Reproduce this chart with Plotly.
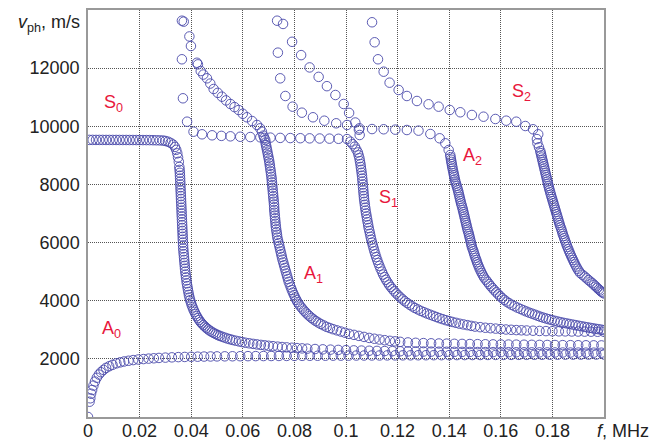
import plotly.graph_objects as go

# ---------------- data: (frequency f in MHz, phase velocity v_ph in m/s) ----------------
A0_points = [
    (0.0, 0), (0.0006, 526), (0.0009, 643), (0.0012, 800), (0.0016, 929), (0.0021, 1080),
    (0.0027, 1220), (0.0034, 1350), (0.0042, 1460), (0.0050, 1540), (0.0060, 1620),
    (0.0070, 1690), (0.0082, 1745), (0.0095, 1795), (0.0110, 1845), (0.0125, 1880),
    (0.0140, 1910), (0.0157, 1935), (0.0175, 1958), (0.0195, 1978), (0.0215, 1993),
    (0.0235, 2008), (0.0255, 2020), (0.0275, 2032), (0.0300, 2043), (0.0325, 2052),
    (0.0350, 2060), (0.0375, 2066), (0.0400, 2071), (0.0425, 2075), (0.0450, 2079),
    (0.0475, 2082), (0.0500, 2085), (0.053, 2087), (0.056, 2089), (0.059, 2091),
    (0.062, 2093), (0.065, 2095), (0.068, 2097), (0.071, 2098), (0.074, 2100),
    (0.077, 2101), (0.080, 2103), (0.083, 2104), (0.086, 2106), (0.089, 2107),
    (0.092, 2108), (0.095, 2110), (0.098, 2111), (0.101, 2112), (0.104, 2114),
    (0.107, 2115), (0.110, 2116), (0.113, 2117), (0.116, 2119), (0.119, 2120),
    (0.122, 2121), (0.125, 2122), (0.128, 2124), (0.131, 2125), (0.134, 2126),
    (0.137, 2127), (0.140, 2128), (0.143, 2130), (0.146, 2131), (0.149, 2132),
    (0.152, 2133), (0.155, 2134), (0.158, 2135), (0.161, 2136), (0.164, 2137),
    (0.167, 2138), (0.170, 2139), (0.173, 2140), (0.176, 2141), (0.179, 2142),
    (0.182, 2143), (0.185, 2144), (0.188, 2145), (0.191, 2146), (0.194, 2147),
    (0.197, 2148), (0.200, 2149),
]

S0_points = [
    (0.0005, 9532), (0.0018, 9532), (0.0031, 9531), (0.0044, 9531), (0.0057, 9531),
    (0.0070, 9530), (0.0083, 9530), (0.0096, 9530), (0.0109, 9530), (0.0122, 9529),
    (0.0135, 9529), (0.0148, 9529), (0.0161, 9528), (0.0174, 9528), (0.0187, 9527),
    (0.0200, 9527), (0.0213, 9526), (0.0226, 9525), (0.0239, 9524), (0.0252, 9522),
    (0.0265, 9519), (0.0278, 9515), (0.0290, 9510), (0.0300, 9495), (0.0310, 9470),
    (0.0320, 9430), (0.0330, 9370), (0.0337, 9290), (0.0342, 9190), (0.0346, 9070),
    (0.0349, 8930), (0.0352, 8780), (0.0354, 8600), (0.0355, 8500), (0.0356, 8400),
    (0.03565, 8300), (0.0357, 8200), (0.03575, 8100), (0.0358, 8000), (0.03585, 7900),
    (0.0359, 7800), (0.03595, 7700), (0.0360, 7600), (0.03605, 7500), (0.0361, 7400),
    (0.03615, 7300), (0.0362, 7200), (0.03625, 7100), (0.0363, 7000), (0.03635, 6900),
    (0.0364, 6800), (0.03645, 6700), (0.0365, 6600), (0.03655, 6500), (0.0366, 6400),
    (0.03665, 6300), (0.0367, 6200), (0.03675, 6100), (0.0368, 6000), (0.03685, 5900),
    (0.0369, 5800), (0.0370, 5700), (0.0371, 5600), (0.0372, 5500), (0.0373, 5400),
    (0.0374, 5300), (0.0375, 5200), (0.0376, 5100), (0.0377, 5000), (0.03785, 4900),
    (0.0380, 4800), (0.03815, 4700), (0.0383, 4600), (0.0385, 4500), (0.0387, 4400),
    (0.0389, 4300), (0.0391, 4200), (0.03935, 4110), (0.0396, 4020), (0.0399, 3935),
    (0.0402, 3850), (0.04055, 3770), (0.0409, 3690), (0.0413, 3615), (0.0417, 3540),
    (0.04215, 3470), (0.0426, 3400), (0.0431, 3335), (0.0436, 3270), (0.04415, 3215),
    (0.0447, 3160), (0.0453, 3110), (0.0459, 3060), (0.04655, 3015), (0.0472, 2970),
    (0.04795, 2930), (0.0487, 2890), (0.0495, 2855), (0.0503, 2820), (0.0511, 2790),
    (0.0520, 2760), (0.0530, 2730), (0.0540, 2700), (0.0550, 2675), (0.0560, 2650),
    (0.0572, 2625), (0.0585, 2600), (0.0597, 2578), (0.0610, 2555), (0.0625, 2535),
    (0.0640, 2515), (0.0655, 2497), (0.0670, 2480), (0.0685, 2465), (0.0700, 2450),
    (0.0717, 2435), (0.0735, 2420), (0.0752, 2407), (0.0770, 2395), (0.0790, 2382),
    (0.0810, 2370), (0.0830, 2360), (0.0850, 2350), (0.088, 2338), (0.091, 2327),
    (0.094, 2317), (0.097, 2308), (0.100, 2300), (0.103, 2292), (0.106, 2285),
    (0.109, 2279), (0.112, 2274), (0.115, 2269), (0.118, 2265), (0.121, 2261),
    (0.124, 2257), (0.127, 2254), (0.130, 2251), (0.133, 2248), (0.136, 2246),
    (0.139, 2244), (0.142, 2242), (0.145, 2240), (0.148, 2238), (0.151, 2236),
    (0.154, 2234), (0.157, 2232), (0.160, 2230), (0.163, 2229), (0.166, 2227),
    (0.169, 2226), (0.172, 2224), (0.175, 2223), (0.178, 2221), (0.181, 2220),
    (0.184, 2218), (0.187, 2217), (0.190, 2216), (0.193, 2214), (0.196, 2213),
    (0.199, 2212),
]

A1_points = [
    (0.0371, 13600), (0.0393, 13090), (0.0399, 12760), (0.0422, 12185), (0.0426, 12130),
    (0.0437, 11900), (0.0447, 11780), (0.0461, 11650), (0.0474, 11470), (0.0487, 11283),
    (0.0503, 11150), (0.0519, 11018), (0.0535, 10890), (0.0552, 10767), (0.0568, 10660),
    (0.0584, 10560), (0.0600, 10430), (0.0616, 10310), (0.0636, 10180), (0.0655, 10045),
    (0.0667, 9930), (0.0674, 9814), (0.0680, 9680), (0.0683, 9600), (0.0687, 9530),
    (0.0688, 9440), (0.0690, 9350), (0.0692, 9265), (0.0694, 9180), (0.0696, 9090),
    (0.0698, 9000), (0.0700, 8910), (0.0702, 8820), (0.07035, 8730), (0.0705, 8640),
    (0.07065, 8545), (0.0708, 8450), (0.07095, 8355), (0.0711, 8260), (0.0712, 8165),
    (0.0713, 8070), (0.0714, 7975), (0.0715, 7880), (0.0716, 7785), (0.0717, 7690),
    (0.0718, 7595), (0.0719, 7500), (0.0720, 7405), (0.0721, 7310), (0.07215, 7215),
    (0.0722, 7120), (0.0723, 7025), (0.0724, 6930), (0.0725, 6835), (0.0726, 6740),
    (0.0727, 6645), (0.0728, 6550), (0.07295, 6455), (0.0731, 6360), (0.07325, 6265),
    (0.0734, 6170), (0.07365, 6075), (0.0739, 5980), (0.07415, 5885), (0.0744, 5790),
    (0.07465, 5695), (0.0749, 5600), (0.07515, 5505), (0.0754, 5410), (0.0757, 5315),
    (0.0760, 5220), (0.0763, 5125), (0.0766, 5030), (0.0769, 4935), (0.0772, 4840),
    (0.0775, 4745), (0.0778, 4650), (0.0782, 4555), (0.0786, 4460), (0.0790, 4370),
    (0.0794, 4280), (0.07985, 4195), (0.0803, 4110), (0.08075, 4030), (0.0812, 3950),
    (0.0818, 3875), (0.0824, 3800), (0.08305, 3730), (0.0837, 3660), (0.0844, 3595),
    (0.0851, 3530), (0.08585, 3470), (0.0866, 3410), (0.08745, 3355), (0.0883, 3300),
    (0.08925, 3250), (0.0902, 3200), (0.09135, 3150), (0.0925, 3100), (0.09375, 3060),
    (0.0950, 3020), (0.0965, 2980), (0.0980, 2940), (0.0996, 2900), (0.1012, 2860),
    (0.1031, 2825), (0.1050, 2790), (0.1070, 2755), (0.1090, 2720), (0.1110, 2692),
    (0.1130, 2665), (0.1150, 2642), (0.1170, 2620), (0.1190, 2602), (0.1210, 2585),
    (0.124, 2565), (0.127, 2552), (0.130, 2542), (0.133, 2535), (0.136, 2529),
    (0.139, 2523), (0.142, 2518), (0.145, 2514), (0.148, 2510), (0.151, 2506),
    (0.154, 2502), (0.157, 2498), (0.160, 2495), (0.163, 2492), (0.166, 2489),
    (0.169, 2486), (0.172, 2483), (0.175, 2480), (0.178, 2478), (0.181, 2476),
    (0.184, 2473), (0.187, 2471), (0.190, 2469), (0.193, 2467), (0.196, 2465),
    (0.199, 2463),
]

S1_points = [
    (0.0364, 13632), (0.0364, 12305), (0.0368, 10963), (0.0384, 10158), (0.0409, 9814),
    (0.0442, 9724), (0.0481, 9690), (0.0517, 9670), (0.0552, 9655), (0.0590, 9640),
    (0.0629, 9630), (0.0668, 9620), (0.0707, 9610), (0.0745, 9600), (0.0784, 9595),
    (0.0823, 9590), (0.0859, 9585), (0.0898, 9580), (0.0936, 9575), (0.0971, 9570),
    (0.1004, 9560), (0.1017, 9470), (0.10255, 9385), (0.1034, 9300), (0.1040, 9200),
    (0.1046, 9100), (0.1049, 9000), (0.1052, 8900), (0.1054, 8800), (0.1056, 8700),
    (0.10575, 8600), (0.1059, 8500), (0.10605, 8400), (0.1062, 8300), (0.1063, 8200),
    (0.1064, 8100), (0.1065, 8000), (0.1066, 7900), (0.1067, 7800), (0.1068, 7700),
    (0.1069, 7600), (0.1070, 7500), (0.10715, 7400), (0.1073, 7300), (0.10745, 7200),
    (0.1076, 7100), (0.1078, 7000), (0.1080, 6900), (0.1082, 6800), (0.1084, 6700),
    (0.1086, 6600), (0.1088, 6500), (0.10905, 6400), (0.1093, 6300), (0.10955, 6200),
    (0.1098, 6100), (0.1101, 6000), (0.1104, 5900), (0.1107, 5800), (0.1110, 5700),
    (0.11135, 5600), (0.1117, 5500), (0.1121, 5400), (0.1125, 5300), (0.11295, 5200),
    (0.1134, 5100), (0.1139, 5000), (0.1144, 4900), (0.11495, 4810), (0.1155, 4720),
    (0.1161, 4635), (0.1167, 4550), (0.11735, 4475), (0.1180, 4400), (0.11875, 4325),
    (0.1195, 4250), (0.1203, 4180), (0.1211, 4110), (0.12195, 4045), (0.1228, 3980),
    (0.12375, 3920), (0.1247, 3860), (0.1257, 3805), (0.1267, 3750), (0.12785, 3700),
    (0.1290, 3650), (0.1302, 3605), (0.1314, 3560), (0.1326, 3520), (0.1338, 3480),
    (0.1350, 3440), (0.1362, 3400), (0.13745, 3365), (0.1387, 3330), (0.13995, 3300),
    (0.1412, 3270), (0.1426, 3240), (0.1440, 3210), (0.1455, 3185), (0.1470, 3160),
    (0.1485, 3135), (0.1500, 3110), (0.1520, 3090), (0.1540, 3070), (0.1560, 3055),
    (0.1580, 3040), (0.1600, 3025), (0.1620, 3010), (0.1640, 3000), (0.1660, 2990),
    (0.1680, 2982), (0.1700, 2975), (0.1725, 2968), (0.1750, 2960), (0.1775, 2955),
    (0.1800, 2950), (0.1825, 2947), (0.1850, 2945), (0.1875, 2942), (0.1900, 2940),
    (0.1925, 2937), (0.1950, 2935), (0.1975, 2932), (0.2000, 2930),
]

S1_upper_points = [
    (0.0756, 13520), (0.0791, 12906), (0.0826, 12448), (0.0859, 12025), (0.0894, 11700),
    (0.0926, 11380), (0.0959, 11076), (0.0991, 10767), (0.1012, 10460), (0.1036, 10130),
    (0.1050, 9880), (0.1053, 9700),
]

A2_points = [
    (0.0733, 13632), (0.0736, 12533), (0.0745, 11650), (0.0765, 11042), (0.0793, 10675),
    (0.0829, 10468), (0.0872, 10310), (0.0916, 10192), (0.0962, 10103), (0.1004, 10045),
    (0.1052, 9931), (0.1101, 9905), (0.1146, 9897), (0.1191, 9885), (0.1236, 9872),
    (0.1281, 9850), (0.1327, 9735), (0.1363, 9587), (0.1385, 9415), (0.1398, 9185),
    (0.1404, 9013), (0.14055, 8930), (0.1407, 8850), (0.14085, 8775), (0.1410, 8700),
    (0.14115, 8625), (0.1413, 8550), (0.1415, 8465), (0.1417, 8383), (0.14185, 8315),
    (0.1420, 8250), (0.1422, 8175), (0.1424, 8100), (0.14265, 8025), (0.1429, 7950),
    (0.14315, 7875), (0.1434, 7800), (0.1436, 7725), (0.1438, 7650), (0.1440, 7575),
    (0.1442, 7500), (0.1444, 7425), (0.1446, 7350), (0.14485, 7275), (0.1451, 7200),
    (0.1453, 7125), (0.1455, 7050), (0.1457, 6975), (0.1459, 6900), (0.1461, 6825),
    (0.1463, 6750), (0.1465, 6675), (0.1467, 6600), (0.1469, 6525), (0.1471, 6450),
    (0.14735, 6375), (0.1476, 6300), (0.1478, 6225), (0.1480, 6150), (0.1482, 6075),
    (0.1484, 6000), (0.1486, 5925), (0.1488, 5850), (0.1491, 5775), (0.1494, 5700),
    (0.14965, 5625), (0.1499, 5550), (0.1502, 5475), (0.1505, 5400), (0.1508, 5325),
    (0.1511, 5250), (0.15145, 5175), (0.1518, 5100), (0.1522, 5025), (0.1526, 4950),
    (0.15305, 4875), (0.1535, 4800), (0.15415, 4725), (0.1548, 4650), (0.15545, 4575),
    (0.1561, 4500), (0.1568, 4430), (0.1575, 4360), (0.15825, 4290), (0.1590, 4220),
    (0.15975, 4155), (0.1605, 4090), (0.16135, 4030), (0.1622, 3970), (0.1632, 3915),
    (0.1642, 3860), (0.16535, 3810), (0.1665, 3760), (0.16765, 3715), (0.1688, 3670),
    (0.1699, 3630), (0.1710, 3590), (0.1721, 3555), (0.1732, 3520), (0.17425, 3485),
    (0.1753, 3450), (0.1764, 3420), (0.1775, 3390), (0.1786, 3362), (0.1797, 3335),
    (0.18085, 3310), (0.1820, 3285), (0.18315, 3262), (0.1843, 3240), (0.18545, 3220),
    (0.1866, 3200), (0.1878, 3180), (0.1890, 3160), (0.19015, 3140), (0.1913, 3120),
    (0.1924, 3102), (0.1935, 3085), (0.1946, 3067), (0.1957, 3050), (0.19675, 3035),
    (0.1978, 3020), (0.1989, 3005), (0.2000, 2990),
]

S2_points = [
    (0.1101, 13578), (0.1111, 12890), (0.1124, 12305), (0.1146, 11878), (0.1169, 11500),
    (0.1204, 11249), (0.1236, 11042), (0.1275, 10870), (0.1320, 10757), (0.1359, 10675),
    (0.1402, 10561), (0.1443, 10482), (0.1488, 10389), (0.1533, 10330), (0.1579, 10251),
    (0.1621, 10193), (0.1660, 10158), (0.1695, 10010), (0.1725, 9897), (0.1745, 9725),
    (0.1740, 9560), (0.1742, 9415), (0.1748, 9280), (0.1753, 9150), (0.1755, 9075),
    (0.1757, 9000), (0.1759, 8925), (0.1761, 8850), (0.1763, 8775), (0.1765, 8700),
    (0.1767, 8625), (0.1769, 8550), (0.1771, 8475), (0.1773, 8400), (0.1775, 8325),
    (0.1777, 8250), (0.1779, 8175), (0.1781, 8100), (0.1783, 8025), (0.1785, 7950),
    (0.1787, 7880), (0.1789, 7808), (0.17915, 7730), (0.1794, 7650), (0.17965, 7575),
    (0.1799, 7500), (0.18015, 7425), (0.1804, 7350), (0.18065, 7275), (0.1809, 7200),
    (0.18115, 7125), (0.1814, 7050), (0.18165, 6975), (0.1819, 6900), (0.18215, 6825),
    (0.1824, 6750), (0.18265, 6675), (0.1829, 6600), (0.1832, 6525), (0.1835, 6450),
    (0.18375, 6375), (0.1840, 6300), (0.1843, 6225), (0.1846, 6150), (0.1849, 6075),
    (0.1852, 6000), (0.1855, 5925), (0.1858, 5850), (0.18615, 5775), (0.1865, 5700),
    (0.18685, 5625), (0.1872, 5550), (0.1876, 5475), (0.1880, 5400), (0.1884, 5325),
    (0.1888, 5250), (0.18925, 5175), (0.1897, 5100), (0.1902, 5030), (0.1907, 4960),
    (0.1916, 4895), (0.1925, 4830), (0.19325, 4770), (0.1940, 4710), (0.19475, 4655),
    (0.1955, 4600), (0.19615, 4545), (0.1968, 4490), (0.1974, 4440), (0.1980, 4390),
    (0.1985, 4350), (0.1990, 4310), (0.1995, 4280), (0.2000, 4250),
]

x_ticks = [0, 0.02, 0.04, 0.06, 0.08, 0.1, 0.12, 0.14, 0.16, 0.18]
x_labels = ["0", "0.02", "0.04", "0.06", "0.08", "0.1", "0.12", "0.14", "0.16", "0.18"]
y_ticks = [2000, 4000, 6000, 8000, 10000, 12000]
y_labels = ["2000", "4000", "6000", "8000", "10000", "12000"]

mode_names = ["S<sub>0</sub>", "A<sub>0</sub>", "A<sub>1</sub>", "S<sub>1</sub>", "A<sub>2</sub>", "S<sub>2</sub>"]
mode_f = [0.0098, 0.0091, 0.0873, 0.1164, 0.1490, 0.1680]
mode_v = [10767, 2993, 4885, 7500, 8944, 11146]

# ---------------- figure ----------------
MARKER_COLOR = "#4a4aaa"
LABEL_COLOR = "#e8173c"
FONT = "Arial, Liberation Sans, sans-serif"

fig = go.Figure()
series = [("A0", A0_points), ("S0", S0_points), ("A1", A1_points), ("S1", S1_points),
          ("S1 upper", S1_upper_points), ("A2", A2_points), ("S2", S2_points)]
for name, pts in series:
    fig.add_trace(go.Scatter(
        x=[p[0] for p in pts], y=[p[1] for p in pts], mode="markers", name=name,
        showlegend=False,
        marker=dict(symbol="circle-open", size=9.5, color=MARKER_COLOR,
                    line=dict(width=0.9, color=MARKER_COLOR)),
    ))

for txt, fx, vy in zip(mode_names, mode_f, mode_v):
    fig.add_annotation(x=fx, y=vy, xref="x", yref="y", text=txt, showarrow=False,
                       font=dict(family=FONT, size=18, color=LABEL_COLOR))

fig.add_annotation(xref="paper", yref="y", x=0, y=13550, xanchor="right", yanchor="middle",
                   xshift=-6, text="<i>v</i><sub>ph</sub>, m/s", showarrow=False,
                   font=dict(family=FONT, size=18, color="#222"))
fig.add_annotation(xref="x", yref="paper", x=0.2, y=0, xanchor="left", yanchor="top",
                   xshift=-9, yshift=-2, text="<i>f</i>, MHz", showarrow=False,
                   font=dict(family=FONT, size=18, color="#222"))

axis_common = dict(showgrid=True, gridcolor="#555", griddash="1px,1px", gridwidth=1,
                   showline=True, linecolor="#999", linewidth=1.5, mirror=True,
                   zeroline=False, ticks="", automargin=False,
                   tickfont=dict(family=FONT, size=18, color="#222"))

# the page body adds an 8 px offset, so the figure is sized to fill the 657x441 window
fig.update_layout(
    template="none",
    width=649, height=433,
    margin=dict(l=80, r=53, t=2, b=24),
    paper_bgcolor="white", plot_bgcolor="white",
    xaxis=dict(range=[0, 0.2], tickvals=x_ticks, ticktext=x_labels,
               ticklabelstandoff=-3, **axis_common),
    yaxis=dict(range=[0, 14000], tickvals=y_ticks, ticktext=y_labels,
               ticklabelstandoff=3, **axis_common),
)

fig.write_html("out.html")
